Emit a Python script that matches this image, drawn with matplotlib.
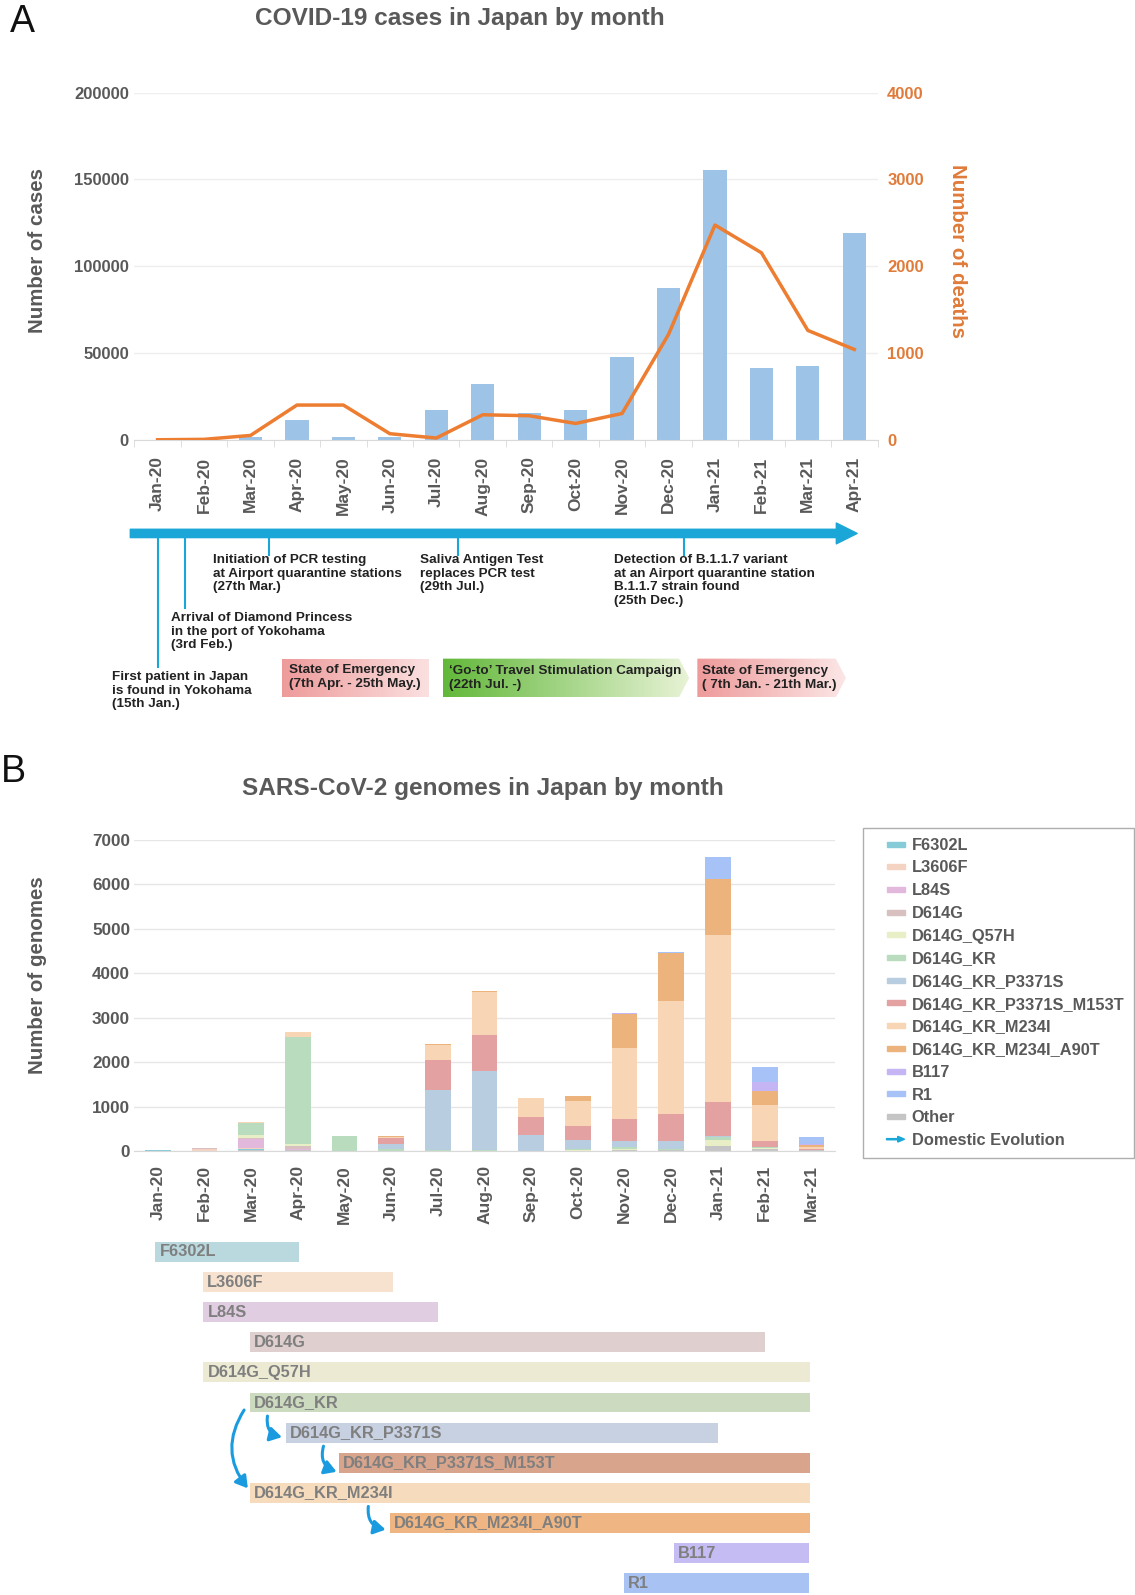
import numpy as np
import matplotlib
matplotlib.use('Agg')
import matplotlib.pyplot as plt
import matplotlib.patches as mpatches
from matplotlib.colors import LinearSegmentedColormap
from matplotlib.legend_handler import HandlerPatch

plt.rcParams['font.family'] = ['Liberation Sans', 'DejaVu Sans']

W, H = 1135, 1595
# layout numbers below are measured on a 1115 x 1567 view of the reference
K = 1.018
Wr, Hr = W / K, H / K

# ---- panel A data
months_a = ['Jan-20', 'Feb-20', 'Mar-20', 'Apr-20', 'May-20', 'Jun-20', 'Jul-20', 'Aug-20',
            'Sep-20', 'Oct-20', 'Nov-20', 'Dec-20', 'Jan-21', 'Feb-21', 'Mar-21', 'Apr-21']
cases = [20, 230, 1700, 11300, 1700, 1700, 17300, 32000, 15200, 17300, 47600, 87400,
         155300, 41500, 42400, 119000]
deaths = [0, 5, 50, 400, 400, 70, 20, 288, 277, 188, 303, 1214, 2474, 2155, 1260, 1041]

# timeline events (month index, day)
event_text = ['First patient in Japan\nis found in Yokohama\n(15th Jan.)',
              'Arrival of Diamond Princess\nin the port of Yokohama\n(3rd Feb.)',
              'Initiation of PCR testing\nat Airport quarantine stations\n(27th Mar.)',
              'Saliva Antigen Test\nreplaces PCR test\n(29th Jul.)',
              'Detection of B.1.1.7 variant\nat an Airport quarantine station\nB.1.1.7 strain found\n(25th Dec.)']
event_month = [0, 1, 2, 6, 11]
event_day = [15, 3, 27, 29, 25]

# ---- panel B data
months_b = months_a[:15]
g_other = [0, 0, 40, 20, 0, 0, 0, 0, 0, 10, 20, 20, 130, 50, 40]
g_f6302l = [20, 10, 10, 0, 0, 0, 0, 0, 0, 0, 0, 0, 0, 0, 0]
g_l3606f = [0, 45, 30, 20, 0, 0, 0, 0, 0, 0, 0, 0, 0, 0, 0]
g_l84s = [0, 0, 200, 10, 0, 0, 0, 0, 0, 0, 0, 0, 0, 0, 0]
g_d614g = [0, 20, 30, 60, 10, 0, 0, 0, 0, 0, 0, 0, 0, 0, 0]
g_q57h = [0, 0, 50, 50, 0, 0, 0, 0, 0, 20, 40, 20, 130, 30, 0]
g_kr = [0, 0, 270, 2400, 330, 50, 20, 20, 10, 30, 30, 20, 55, 10, 0]
g_p3371s = [0, 0, 0, 0, 0, 110, 1360, 1780, 350, 200, 150, 170, 20, 0, 0]
g_m153t = [0, 0, 0, 0, 0, 140, 675, 825, 405, 320, 490, 615, 770, 150, 20]
g_m234i = [0, 0, 20, 120, 10, 20, 340, 955, 425, 560, 1590, 2530, 3765, 800, 40]
g_a90t = [0, 0, 0, 0, 0, 30, 20, 20, 0, 105, 770, 1085, 1240, 310, 50]
g_b117 = [0, 0, 0, 0, 0, 0, 0, 0, 0, 0, 10, 0, 10, 200, 10]
g_r1 = [0, 0, 0, 0, 0, 0, 0, 0, 0, 0, 20, 20, 485, 340, 170]

lineages = ['F6302L', 'L3606F', 'L84S', 'D614G', 'D614G_Q57H', 'D614G_KR', 'D614G_KR_P3371S',
            'D614G_KR_P3371S_M153T', 'D614G_KR_M234I', 'D614G_KR_M234I_A90T', 'B117', 'R1']
bar_colors = ['#86CCD8', '#F5D3C3', '#E3B8DD', '#D8BFC0', '#E8EEC5', '#B9DCBE', '#B8CEE0',
              '#E3A1A1', '#F7D5B5', '#EDB37C', '#C6B5F5', '#A6C2F7']
other_color = '#C5C5C5'
# period each lineage was seen (month index)
span_start = [-0.05, 0.96, 0.98, 1.98, 0.98, 1.98, 2.75, 3.88, 1.98, 4.97, 11.05, 9.98]
span_end = [3.03, 5.03, 6.0, 13.0, 13.98, 13.98, 12.0, 13.98, 13.98, 13.98, 13.95, 13.95]
span_colors = ['#B9D9DF', '#F6E2CF', '#E1CDE2', '#DFCFCF', '#EDEAD4', '#CCDABF', '#C8D1E2',
               '#D9A48C', '#F6DBBC', '#EFB683', '#C5BCF3', '#A8C2F4']

gray = '#595959'
orange = '#ED7D31'
cyan = '#1AA7D8'


def fig_rect(x0, y0, x1, y1):
    return [x0 / Wr, 1 - y1 / Hr, (x1 - x0) / Wr, (y1 - y0) / Hr]


fig = plt.figure(figsize=(W / 100, H / 100), dpi=100)

# ================= panel A
axA = fig.add_axes(fig_rect(132, 91, 862, 432))
xa = np.arange(len(months_a))
axA.bar(xa, cases, width=0.5, color='#9DC3E6', zorder=2)
axA.set_xlim(-0.5, len(months_a) - 0.5)
axA.set_ylim(0, 200000)
axA.set_yticks(range(0, 200001, 50000))
axA.grid(axis='y', color='#EEEEEE', lw=1)
axA.set_axisbelow(True)
for s in ['top', 'left', 'right']:
    axA.spines[s].set_visible(False)
axA.spines['bottom'].set_color('#D9D9D9')
axA.set_xticks(xa)
axA.set_xticklabels(months_a, rotation=90)
axA.set_xticks(np.arange(-0.5, len(months_a)), minor=True)
axA.tick_params(axis='x', which='major', length=0, pad=12, labelsize=12.5, labelcolor=gray)
axA.tick_params(axis='x', which='minor', length=5, color='#D9D9D9')
axA.tick_params(axis='y', length=0, pad=4, labelsize=12, labelcolor=gray)
for lbl in axA.get_xticklabels() + axA.get_yticklabels():
    lbl.set_fontweight('bold')
axA.set_ylabel('Number of cases', fontsize=14.8, fontweight='bold', color=gray, va='center')
axA.yaxis.set_label_coords(-0.130, 0.545)

axD = axA.twinx()
axD.plot(xa, deaths, color=orange, lw=2.5)
axD.set_ylim(0, 4000)
axD.set_yticks(range(0, 4001, 1000))
for s in ['top', 'left', 'right', 'bottom']:
    axD.spines[s].set_visible(False)
axD.tick_params(axis='y', length=0, pad=7, labelsize=12, labelcolor='#E07B39')
for lbl in axD.get_yticklabels():
    lbl.set_fontweight('bold')
axD.set_ylabel('Number of deaths', rotation=270, fontsize=14.8, fontweight='bold',
               color='#E07B39', va='center')
axD.yaxis.set_label_coords(1.107, 0.545)

fig.text(452 / Wr, 1 - 18 / Hr, 'COVID-19 cases in Japan by month', ha='center', va='center',
         fontsize=17.6, fontweight='bold', color=gray)
fig.text(10 / Wr, 1 - 22 / Hr, 'A', ha='left', va='center', fontsize=27, color='#111111')

# ---- timeline (overlay in reference pixel coordinates)
ov = fig.add_axes([0, 0, 1, 1])
ov.axis('off')
ov.patch.set_visible(False)


def month_px(m):
    return 132 + (m + 0.5) * 730 / len(months_a)


ov.annotate('', xy=(842, 524), xytext=(128, 524),
            arrowprops=dict(arrowstyle='simple,head_width=1.5,head_length=1.5,tail_width=0.6',
                            mutation_scale=10, color=cyan, shrinkA=0, shrinkB=0))
tick_end = [655, 597, 545, 545, 545]
text_x = [110, 168, 209, 413, 603]
text_top = [659, 601, 544, 544, 544]
for i in range(len(event_text)):
    ex = month_px(event_month[i] + (event_day[i] - 15) / 30)
    ov.plot([ex, ex], [526, tick_end[i]], color=cyan, lw=1.5)
    ov.text(text_x[i], text_top[i], event_text[i], ha='left', va='top', fontsize=9.7,
            fontweight='bold', color='#222222', linespacing=1.2)


def grad_box(x0, x1, y0, y1, c0, c1, tip=0):
    verts = [(x0, y0), (x1 - tip, y0), (x1, (y0 + y1) / 2), (x1 - tip, y1), (x0, y1)]
    poly = mpatches.Polygon(verts, closed=True, fc='none', ec='none')
    ov.add_patch(poly)
    cmap = LinearSegmentedColormap.from_list('g', [c0, c1])
    im = ov.imshow(np.linspace(0, 1, 256).reshape(1, -1), extent=[x0, x1, y1, y0], cmap=cmap,
                   aspect='auto', zorder=1)
    im.set_clip_path(poly)


grad_box(277, 421, 647, 685, '#EE9A9A', '#FBE0E0')
grad_box(435, 677, 647, 685, '#62B83A', '#E8F3D6', tip=10)
grad_box(685, 831, 647, 685, '#EE9A9A', '#FCE6E6', tip=10)
ov.text(284, 665, 'State of Emergency\n(7th Apr. - 25th May.)', ha='left', va='center',
        fontsize=9.7, fontweight='bold', color='#222222', zorder=3)
ov.text(441, 666, '\u2018Go-to\u2019 Travel Stimulation Campaign\n(22th Jul. -)', ha='left',
        va='center', fontsize=9.7, fontweight='bold', color='#222222', zorder=3)
ov.text(690, 666, 'State of Emergency\n( 7th Jan. - 21th Mar.)', ha='left', va='center',
        fontsize=9.7, fontweight='bold', color='#222222', zorder=3)
ov.set_xlim(0, Wr)
ov.set_ylim(Hr, 0)

# ================= panel B
axB = fig.add_axes(fig_rect(132, 825, 820, 1131))
xb = np.arange(len(months_b))
stack = [g_other, g_f6302l, g_l3606f, g_l84s, g_d614g, g_q57h, g_kr, g_p3371s, g_m153t,
         g_m234i, g_a90t, g_b117, g_r1]
stack_colors = [other_color] + bar_colors
bottom = np.zeros(len(months_b))
for vals, c in zip(stack, stack_colors):
    axB.bar(xb, vals, bottom=bottom, width=0.55, color=c, zorder=2)
    bottom += np.array(vals)
axB.set_xlim(-0.5, len(months_b) - 0.5)
axB.set_ylim(0, 7000)
axB.set_yticks(range(0, 7001, 1000))
axB.grid(axis='y', color='#E6E6E6', lw=1)
axB.set_axisbelow(True)
for s in ['top', 'left', 'right']:
    axB.spines[s].set_visible(False)
axB.spines['bottom'].set_color('#D9D9D9')
axB.set_xticks(xb)
axB.set_xticklabels(months_b, rotation=90)
axB.tick_params(axis='x', length=0, pad=10, labelsize=12.5, labelcolor=gray)
axB.tick_params(axis='y', length=0, pad=3, labelsize=12.3, labelcolor=gray)
for lbl in axB.get_xticklabels() + axB.get_yticklabels():
    lbl.set_fontweight('bold')
axB.set_ylabel('Number of genomes', fontsize=14.8, fontweight='bold', color=gray, va='center')
axB.yaxis.set_label_coords(-0.138, 0.565)

fig.text(474 / Wr, 1 - 775 / Hr, 'SARS-CoV-2 genomes in Japan by month', ha='center',
         va='center', fontsize=17.6, fontweight='bold', color=gray)
fig.text(1 / Wr, 1 - 758 / Hr, 'B', ha='left', va='center', fontsize=27, color='#111111')

# legend: short thick bars on the right part of each handle box
handles = [mpatches.Rectangle((0, 0), 1, 1, color=c) for c in bar_colors + [other_color]]
handles.append(mpatches.FancyArrow(0, 0, 1, 0, color=cyan))
labels = lineages + ['Other', 'Domestic Evolution']


def make_bar(legend, orig_handle, xdescent, ydescent, width, height, fontsize):
    return mpatches.Rectangle((0.42 * width, height / 2 - 1.8), 0.58 * width, 3.6)


def make_arrow(legend, orig_handle, xdescent, ydescent, width, height, fontsize):
    return mpatches.FancyArrow(0.42 * width, height / 2, 0.58 * width, 0,
                               length_includes_head=True, head_width=0.5 * height,
                               head_length=0.22 * width, width=0.1 * height)


leg = fig.legend(handles, labels, loc='upper left', bbox_to_anchor=(848 / Wr, 1 - 813 / Hr),
                 frameon=True, fancybox=False, edgecolor='#9A9A9A',
                 handlelength=1.9, handletextpad=0.43, labelspacing=0.47, borderpad=0.62,
                 borderaxespad=0, prop={'weight': 'bold', 'size': 11.8},
                 handler_map={mpatches.Rectangle: HandlerPatch(patch_func=make_bar),
                              mpatches.FancyArrow: HandlerPatch(patch_func=make_arrow)})
for t in leg.get_texts():
    t.set_color(gray)

# ---- lineage periods
axG = fig.add_axes(fig_rect(132, 1212, 820, 1573))
axG.set_xlim(-0.5, len(months_b) - 0.5)
axG.set_ylim(len(lineages) - 0.4, -0.6)
axG.axis('off')
for i in range(len(lineages)):
    axG.barh(i, span_end[i] - span_start[i], left=span_start[i], height=0.66,
             color=span_colors[i])
    axG.annotate(lineages[i], (span_start[i], i), xytext=(3, 0), textcoords='offset points',
                 ha='left', va='center', fontsize=11.8, fontweight='bold', color='#7F7F7F')

evo_from = [(1.85, 5.25), (2.35, 5.45), (3.55, 6.45), (4.51, 8.45)]
evo_to = [(1.93, 7.85), (2.66, 6.15), (3.83, 7.3), (4.88, 9.22)]
evo_rad = [0.35, 0.45, 0.45, 0.45]
for a, b, r in zip(evo_from, evo_to, evo_rad):
    axG.annotate('', xy=b, xytext=a,
                 arrowprops=dict(arrowstyle='-|>,head_width=0.42,head_length=0.7', color='#1A9BE0',
                                 lw=2.2, connectionstyle='arc3,rad=%s' % r, shrinkA=0, shrinkB=0))

fig.savefig('out.png', dpi=100, facecolor='white')
